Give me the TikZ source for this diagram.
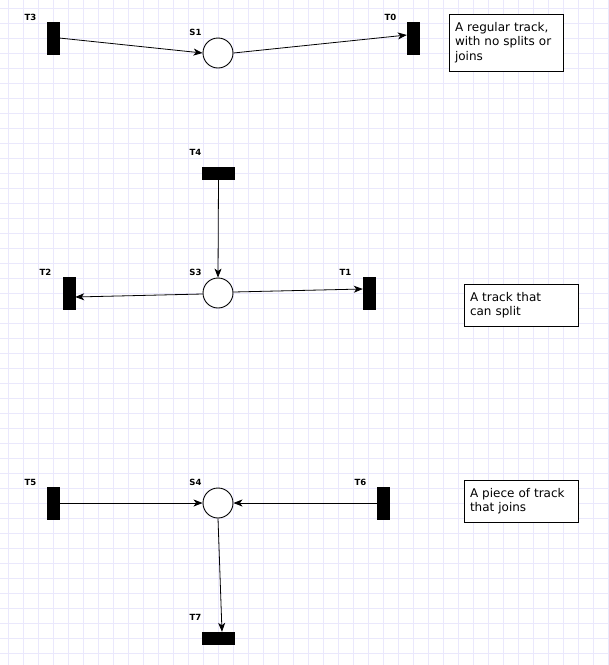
\documentclass[tikz,border=0pt]{standalone}
\usepackage{fontspec}
\setmainfont{DejaVu Sans}
\usetikzlibrary{arrows.meta}
\definecolor{gridc}{RGB}{234,232,252}
\tikzset{
  trans/.style={draw=black, fill=black, inner sep=0pt},
  vtrans/.style={trans, minimum width=12pt, minimum height=32pt},
  htrans/.style={trans, minimum width=32pt, minimum height=12pt},
  place/.style={draw=black, line width=0.9pt, fill=white, circle, minimum size=30pt, inner sep=0pt},
  lbl/.style={font=\fontsize{8.5}{10}\selectfont\bfseries, inner sep=0pt},
  note/.style={draw=black, line width=0.9pt, fill=white, inner sep=6pt, text width=102pt, align=left, font=\fontsize{12}{14.5}\selectfont},
  arc/.style={draw=black, line width=0.8pt, -{Stealth[length=9pt,width=7pt,inset=2.5pt]}}
}
\begin{document}
\begin{tikzpicture}[x=1pt,y=-1pt]
\useasboundingbox (0,0) rectangle (609,665);
\fill[white] (0,0) rectangle (609,665);
\foreach \i in {0,...,40} {
  \draw[gridc, line width=0.8pt] ({8+15*\i},0) -- ({8+15*\i},665);
}
\foreach \i in {0,...,44} {
  \draw[gridc, line width=0.8pt] (0,{8+15*\i}) -- (609,{8+15*\i});
}
% Row 1
\node[vtrans] (T3) at (53,38) {};
\node[place] (S1) at (218,53) {};
\node[vtrans] (T0) at (413,38) {};
\node[lbl] (lT3) at (30.5,17.5) {T3};
\node[lbl] (lS1) at (195.5,32.5) {S1};
\node[lbl] (lT0) at (390.5,17.5) {T0};
\node[note, minimum height=57pt] (n1) at (506,42.5) {A regular track,\\ with no splits or\\ joins};
\draw[arc] (T3.east) -- (S1.west);
\draw[arc] (S1.east) -- ([yshift=3pt]T0.west);
% Row 2
\node[htrans] (T4) at (218.5,173) {};
\node[place] (S3) at (218,293) {};
\node[vtrans] (T2) at (69,293) {};
\node[vtrans] (T1) at (369,293) {};
\node[lbl] (lT4) at (195.5,152.5) {T4};
\node[lbl] (lS3) at (195.5,272.5) {S3};
\node[lbl] (lT2) at (45.5,272.5) {T2};
\node[lbl] (lT1) at (345.5,272.5) {T1};
\node[note, minimum height=42pt] (n2) at (521,305) {A track that\\ can split};
\draw[arc] (T4.south) -- (S3.north);
\draw[arc] ([yshift=-1pt]S3.west) -- ([yshift=-4pt]T2.east);
\draw[arc] ([yshift=1pt]S3.east) -- ([yshift=4pt]T1.west);
% Row 3
\node[vtrans] (T5) at (53,503) {};
\node[place] (S4) at (218,503) {};
\node[vtrans] (T6) at (383,503) {};
\node[htrans] (T7) at (218.5,638) {};
\node[lbl] (lT5) at (30.5,482.5) {T5};
\node[lbl] (lS4) at (195.5,482.5) {S4};
\node[lbl] (lT6) at (360.5,482.5) {T6};
\node[lbl] (lT7) at (195.5,617.5) {T7};
\node[note, minimum height=42pt] (n3) at (521,501) {A piece of track\\ that joins};
\draw[arc] (T5.east) -- (S4.west);
\draw[arc] (T6.west) -- (S4.east);
\draw[arc] (S4.south) -- ([xshift=3.5pt]T7.north);
\end{tikzpicture}
\end{document}
